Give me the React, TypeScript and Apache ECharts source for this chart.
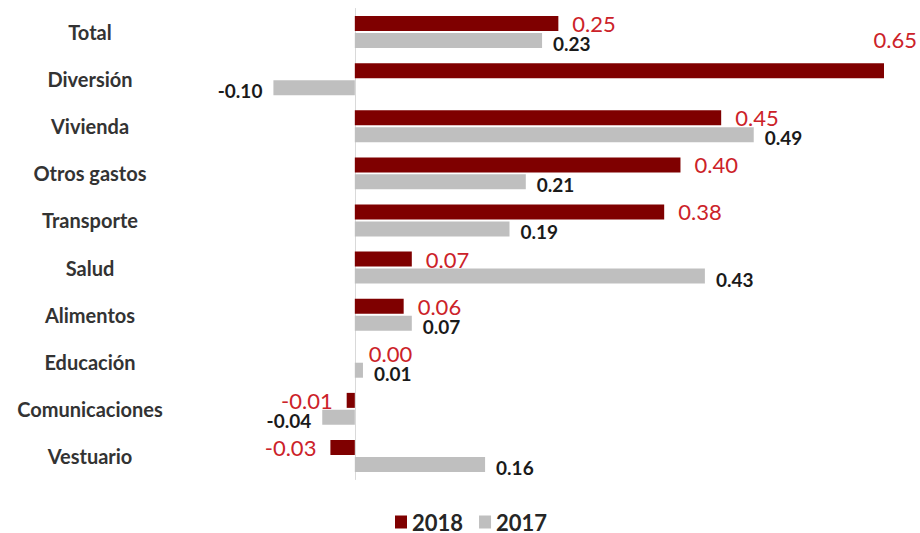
import React, { useEffect, useRef } from 'react';
import * as echarts from 'echarts';

const categories = ['Total', 'Diversión', 'Vivienda', 'Otros gastos', 'Transporte', 'Salud', 'Alimentos', 'Educación', 'Comunicaciones', 'Vestuario'];
const values2018 = [0.25, 0.65, 0.45, 0.40, 0.38, 0.07, 0.06, 0.00, -0.01, -0.03];
const values2017 = [0.23, -0.10, 0.49, 0.21, 0.19, 0.43, 0.07, 0.01, -0.04, 0.16];
const seriesNames = ['2018', '2017'];

const RED = '#7F0000';
const GRAY = '#BFBFBF';
const RED_TEXT = '#CC2229';
const FONT = 'Lato';

export default function App() {
  const ref = useRef<HTMLDivElement>(null);

  useEffect(() => {
    if (!ref.current) return;
    const chart = echarts.init(ref.current, null, { renderer: 'svg' });

    const data2018 = values2018.map((v, i) => {
      if (i === 1) {
        return {
          value: v,
          label: {
            position: ['100%', -24],
            offset: [33, 0],
            align: 'right',
            verticalAlign: 'middle',
          },
        };
      }
      return { value: v, label: { position: v < 0 ? 'left' : 'right' } };
    });
    const data2017 = values2017.map((v) => ({
      value: v,
      label: { position: v < 0 ? 'left' : 'right' },
    }));

    chart.setOption({
      animation: false,
      textStyle: { fontFamily: FONT },
      grid: { left: 192, right: 36, top: 8.5, bottom: 53.5, containLabel: false, outerBoundsMode: 'none' },
      legend: {
        data: seriesNames,
        left: 395,
        top: 511,
        padding: 0,
        itemWidth: 12,
        itemHeight: 13,
        itemGap: 16,
        icon: 'rect',
        textStyle: { fontFamily: FONT, fontSize: 22, lineHeight: 22, fontWeight: 'bold', color: '#262626' },
      },
      xAxis: {
        type: 'value',
        min: -0.2,
        max: 0.65,
        show: false,
        splitLine: { show: false },
      },
      yAxis: {
        type: 'category',
        data: categories,
        inverse: true,
        axisTick: { show: false },
        axisLine: { show: true, onZero: true, lineStyle: { color: '#D9D9D9', width: 1 } },
        axisLabel: {
          margin: 102,
          align: 'center',
          fontFamily: FONT,
          fontSize: 20,
          fontWeight: 'bold',
          color: '#333333',
        },
      },
      series: [
        {
          name: seriesNames[0],
          type: 'bar',
          data: data2018,
          barWidth: 15,
          barGap: '13%',
          itemStyle: { color: RED },
          label: {
            show: true,
            distance: 14,
            fontFamily: FONT,
            fontSize: 22,
            color: RED_TEXT,
            formatter: (p: any) => Number(p.value).toFixed(2),
          },
        },
        {
          name: seriesNames[1],
          type: 'bar',
          data: data2017,
          barWidth: 15,
          barGap: '13%',
          itemStyle: { color: GRAY },
          label: {
            show: true,
            distance: 11,
            offset: [0, 3],
            fontFamily: FONT,
            fontSize: 19,
            fontWeight: 'bold',
            color: '#1A1A1A',
            formatter: (p: any) => Number(p.value).toFixed(2),
          },
        },
      ],
    });

    return () => chart.dispose();
  }, []);

  return (
    <div
      ref={ref}
      style={{ position: 'absolute', left: 0, top: 0, width: 920, height: 533, background: '#ffffff' }}
    />
  );
}
